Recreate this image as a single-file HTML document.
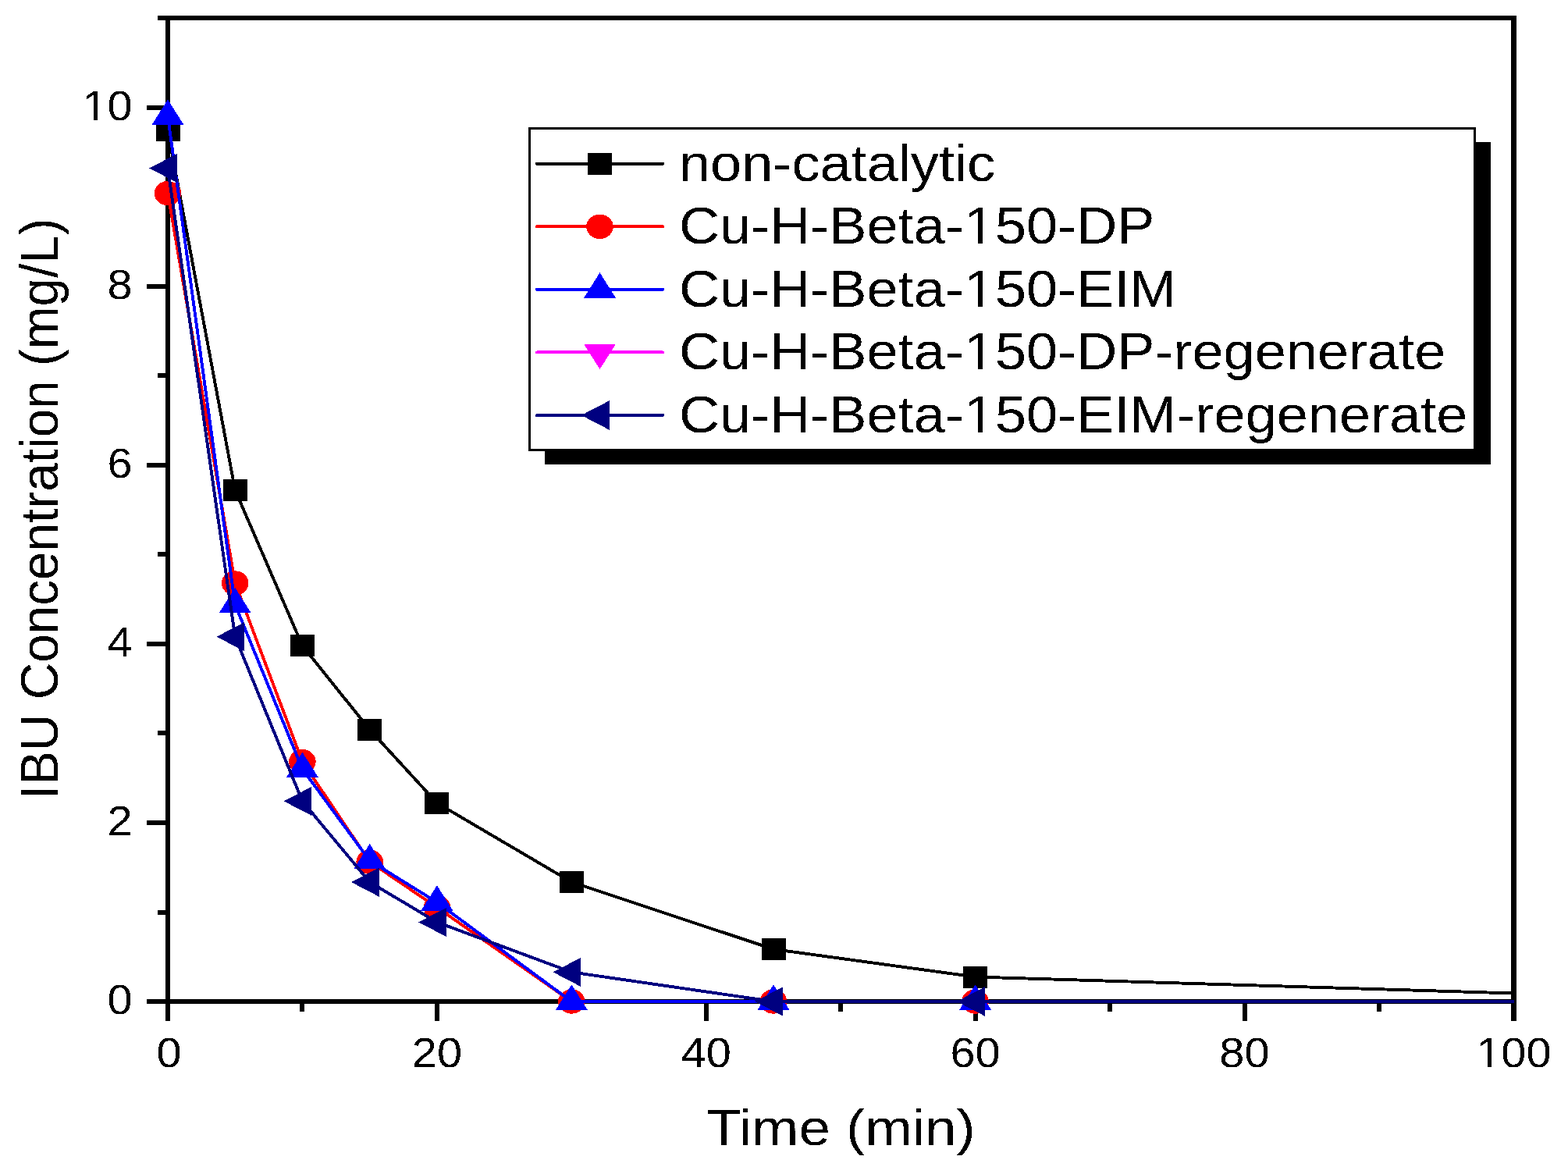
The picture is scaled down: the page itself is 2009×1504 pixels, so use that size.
<!DOCTYPE html>
<html><head><meta charset="utf-8"><title>IBU Concentration vs Time</title>
<style>html,body{margin:0;padding:0;background:#fff;}svg{display:block;}
text{font-family:"Liberation Sans",Arial,sans-serif;fill:#000;}</style></head>
<body>
<svg width="2009" height="1504" viewBox="0 0 2009 1504" shape-rendering="crispEdges">
<rect width="2009" height="1504" fill="#fff"/>
<defs><filter id="crisp" x="-5%" y="-5%" width="110%" height="110%" color-interpolation-filters="sRGB"><feComponentTransfer><feFuncA type="discrete" tableValues="0 1"/></feComponentTransfer></filter><clipPath id="pc"><rect x="215" y="23" width="1725" height="1262"/></clipPath></defs>
<g fill="#000" shape-rendering="crispEdges"><rect x="202" y="20" width="1741" height="6"/>
<rect x="212" y="20" width="6" height="1288"/>
<rect x="1936" y="20" width="7" height="1288"/>
<rect x="188" y="1280" width="1755" height="6"/>
<rect x="202" y="1165.5" width="12" height="6"/>
<rect x="188" y="1050.9" width="26" height="6"/>
<rect x="202" y="936.4" width="12" height="6"/>
<rect x="188" y="821.8" width="26" height="6"/>
<rect x="202" y="707.3" width="12" height="6"/>
<rect x="188" y="592.8" width="26" height="6"/>
<rect x="202" y="478.2" width="12" height="6"/>
<rect x="188" y="363.7" width="26" height="6"/>
<rect x="202" y="249.1" width="12" height="6"/>
<rect x="188" y="134.6" width="26" height="6"/>
<rect x="384.4" y="1284" width="6" height="12"/>
<rect x="556.9" y="1284" width="6" height="24"/>
<rect x="729.3" y="1284" width="6" height="12"/>
<rect x="901.8" y="1284" width="6" height="24"/>
<rect x="1074.2" y="1284" width="6" height="12"/>
<rect x="1246.6" y="1284" width="6" height="24"/>
<rect x="1419.1" y="1284" width="6" height="12"/>
<rect x="1591.5" y="1284" width="6" height="24"/>
<rect x="1764.0" y="1284" width="6" height="12"/></g>
<g filter="url(#crisp)"><g transform="translate(169.6 0) scale(1.07 1)"><text x="0.0" y="1299.2" text-anchor="end" font-size="54">0</text></g></g>
<g filter="url(#crisp)"><g transform="translate(169.6 0) scale(1.07 1)"><text x="0.0" y="1070.1" text-anchor="end" font-size="54">2</text></g></g>
<g filter="url(#crisp)"><g transform="translate(169.6 0) scale(1.07 1)"><text x="0.0" y="841.0" text-anchor="end" font-size="54">4</text></g></g>
<g filter="url(#crisp)"><g transform="translate(169.6 0) scale(1.07 1)"><text x="0.0" y="612.0" text-anchor="end" font-size="54">6</text></g></g>
<g filter="url(#crisp)"><g transform="translate(169.6 0) scale(1.07 1)"><text x="0.0" y="382.9" text-anchor="end" font-size="54">8</text></g></g>
<g filter="url(#crisp)"><g transform="translate(169.6 0) scale(1.07 1)"><text x="0.0" y="153.8" text-anchor="end" font-size="54">10</text><rect x="-56.89" y="149.17" width="10.27" height="5.63" fill="#fff"/><rect x="-41.55" y="149.17" width="10.12" height="5.63" fill="#fff"/></g></g>
<g filter="url(#crisp)"><g transform="translate(216.5 0) scale(1.07 1)"><text x="0.0" y="1367.0" text-anchor="middle" font-size="54">0</text></g></g>
<g filter="url(#crisp)"><g transform="translate(559.9 0) scale(1.07 1)"><text x="0.0" y="1367.0" text-anchor="middle" font-size="54">20</text></g></g>
<g filter="url(#crisp)"><g transform="translate(904.8 0) scale(1.07 1)"><text x="0.0" y="1367.0" text-anchor="middle" font-size="54">40</text></g></g>
<g filter="url(#crisp)"><g transform="translate(1249.6 0) scale(1.07 1)"><text x="0.0" y="1367.0" text-anchor="middle" font-size="54">60</text></g></g>
<g filter="url(#crisp)"><g transform="translate(1594.5 0) scale(1.07 1)"><text x="0.0" y="1367.0" text-anchor="middle" font-size="54">80</text></g></g>
<g filter="url(#crisp)"><g transform="translate(1939.4 0) scale(1.07 1)"><text x="0.0" y="1367.0" text-anchor="middle" font-size="54">100</text><rect x="-41.87" y="1362.37" width="10.27" height="5.63" fill="#fff"/><rect x="-26.54" y="1362.37" width="10.12" height="5.63" fill="#fff"/></g></g>
<g filter="url(#crisp)"><g transform="translate(905 1467) scale(1.11 1)"><text x="0.0" y="0.0" font-size="65.5">Time (min)</text></g></g>
<g filter="url(#crisp)"><g transform="translate(74 1024) rotate(-90) scale(1.003 1.06)"><text x="0.0" y="0.0" font-size="65.5">IBU Concentration (mg/L)</text></g></g>
<g clip-path="url(#pc)"><polyline points="215.0,167.4 301.2,627.8 387.4,827.1 473.7,934.8 559.9,1028.7 732.3,1130.0 991.0,1216.0 1249.6,1251.5 2284.3,1283.0" fill="none" stroke="#000" stroke-width="3.9" stroke-linejoin="round"/></g>
<rect x="199.5" y="153.4" width="31" height="28" fill="#000"/>
<rect x="285.7" y="613.8" width="31" height="28" fill="#000"/>
<rect x="371.9" y="813.1" width="31" height="28" fill="#000"/>
<rect x="458.2" y="920.8" width="31" height="28" fill="#000"/>
<rect x="544.4" y="1014.7" width="31" height="28" fill="#000"/>
<rect x="716.8" y="1116.0" width="31" height="28" fill="#000"/>
<rect x="975.5" y="1202.0" width="31" height="28" fill="#000"/>
<rect x="1234.1" y="1237.5" width="31" height="28" fill="#000"/>
<g clip-path="url(#pc)"><polyline points="215.0,247.6 301.2,747.0 387.4,975.7 473.7,1104.0 559.9,1162.5 732.3,1283.0 991.0,1283.0 1249.6,1283.0 2284.3,1283.0" fill="none" stroke="#f00" stroke-width="3.9" stroke-linejoin="round"/></g>
<ellipse cx="215.0" cy="247.6" rx="17.3" ry="15.7" fill="#f00"/>
<ellipse cx="301.2" cy="747.0" rx="17.3" ry="15.7" fill="#f00"/>
<ellipse cx="387.4" cy="975.7" rx="17.3" ry="15.7" fill="#f00"/>
<ellipse cx="473.7" cy="1104.0" rx="17.3" ry="15.7" fill="#f00"/>
<ellipse cx="559.9" cy="1162.5" rx="17.3" ry="15.7" fill="#f00"/>
<ellipse cx="732.3" cy="1283.0" rx="17.3" ry="15.7" fill="#f00"/>
<ellipse cx="991.0" cy="1283.0" rx="17.3" ry="15.7" fill="#f00"/>
<ellipse cx="1249.6" cy="1283.0" rx="17.3" ry="15.7" fill="#f00"/>
<g clip-path="url(#pc)"><polyline points="215.0,149.1 301.2,774.4 387.4,985.2 473.7,1102.6 559.9,1155.9 732.3,1283.0 991.0,1283.0 1249.6,1283.0 2284.3,1283.0" fill="none" stroke="#00f" stroke-width="3.9" stroke-linejoin="round"/></g>
<polygon points="215.0,127.5 235.5,159.9 194.5,159.9" fill="#00f"/>
<polygon points="301.2,752.8 321.7,785.2 280.7,785.2" fill="#00f"/>
<polygon points="387.4,963.6 407.9,996.0 366.9,996.0" fill="#00f"/>
<polygon points="473.7,1081.0 494.2,1113.4 453.2,1113.4" fill="#00f"/>
<polygon points="559.9,1134.3 580.4,1166.7 539.4,1166.7" fill="#00f"/>
<polygon points="732.3,1261.4 752.8,1293.8 711.8,1293.8" fill="#00f"/>
<polygon points="991.0,1261.4 1011.5,1293.8 970.5,1293.8" fill="#00f"/>
<polygon points="1249.6,1261.4 1270.1,1293.8 1229.1,1293.8" fill="#00f"/>
<g clip-path="url(#pc)"><polyline points="215.0,215.5 301.2,815.7 387.4,1026.4 473.7,1130.1 559.9,1181.4 732.3,1245.4 991.0,1283.0 1249.6,1283.0 2284.3,1283.0" fill="none" stroke="#000080" stroke-width="3.9" stroke-linejoin="round"/></g>
<polygon points="191.3,215.5 227.0,196.9 227.0,234.1" fill="#000080"/>
<polygon points="277.5,815.7 313.2,797.1 313.2,834.3" fill="#000080"/>
<polygon points="363.7,1026.4 399.4,1007.8 399.4,1045.0" fill="#000080"/>
<polygon points="450.0,1130.1 485.7,1111.5 485.7,1148.7" fill="#000080"/>
<polygon points="536.2,1181.4 571.9,1162.8 571.9,1200.0" fill="#000080"/>
<polygon points="708.6,1245.4 744.3,1226.8 744.3,1264.0" fill="#000080"/>
<polygon points="967.3,1283.0 1003.0,1264.4 1003.0,1301.6" fill="#000080"/>
<polygon points="1225.9,1283.0 1261.6,1264.4 1261.6,1301.6" fill="#000080"/>
<rect x="698" y="182" width="1212" height="413" fill="#000"/>
<rect x="678.5" y="164.5" width="1211" height="412" fill="#fff" stroke="#000" stroke-width="3"/>
<line x1="688" y1="209.7" x2="849" y2="209.7" stroke="#000" stroke-width="4" stroke-linecap="round"/>
<rect x="753.0" y="195.7" width="31" height="28" fill="#000"/>
<g filter="url(#crisp)"><g transform="translate(870 231.7) scale(1.085 1)"><text x="0.0" y="0.0" font-size="66.5">non-catalytic</text></g></g>
<line x1="688" y1="290.3" x2="849" y2="290.3" stroke="#f00" stroke-width="4" stroke-linecap="round"/>
<ellipse cx="768.5" cy="290.3" rx="17.3" ry="15.7" fill="#f00"/>
<g filter="url(#crisp)"><g transform="translate(870 312.3) scale(1.085 1)"><text x="0.0" y="0.0" font-size="66.5">Cu-H-Beta-150-DP</text><rect x="340.11" y="-5.57" width="12.68" height="6.57" fill="#fff"/><rect x="358.97" y="-5.57" width="12.47" height="6.57" fill="#fff"/></g></g>
<line x1="688" y1="370.9" x2="849" y2="370.9" stroke="#00f" stroke-width="4" stroke-linecap="round"/>
<polygon points="768.5,349.3 789.0,381.7 748.0,381.7" fill="#00f"/>
<g filter="url(#crisp)"><g transform="translate(870 392.9) scale(1.085 1)"><text x="0.0" y="0.0" font-size="66.5">Cu-H-Beta-150-EIM</text><rect x="340.11" y="-5.57" width="12.68" height="6.57" fill="#fff"/><rect x="358.97" y="-5.57" width="12.47" height="6.57" fill="#fff"/></g></g>
<line x1="688" y1="451.4" x2="849" y2="451.4" stroke="#f0f" stroke-width="4" stroke-linecap="round"/>
<polygon points="768.5,473.0 789.0,440.6 748.0,440.6" fill="#f0f"/>
<g filter="url(#crisp)"><g transform="translate(870 473.4) scale(1.085 1)"><text x="0.0" y="0.0" font-size="66.5">Cu-H-Beta-150-DP-regenerate</text><rect x="340.11" y="-5.57" width="12.68" height="6.57" fill="#fff"/><rect x="358.97" y="-5.57" width="12.47" height="6.57" fill="#fff"/></g></g>
<line x1="688" y1="532.0" x2="849" y2="532.0" stroke="#000080" stroke-width="4" stroke-linecap="round"/>
<polygon points="744.8,532.0 780.5,513.4 780.5,550.6" fill="#000080"/>
<g filter="url(#crisp)"><g transform="translate(870 554.0) scale(1.085 1)"><text x="0.0" y="0.0" font-size="66.5">Cu-H-Beta-150-EIM-regenerate</text><rect x="340.11" y="-5.57" width="12.68" height="6.57" fill="#fff"/><rect x="358.97" y="-5.57" width="12.47" height="6.57" fill="#fff"/></g></g>
</svg>
</body></html>
